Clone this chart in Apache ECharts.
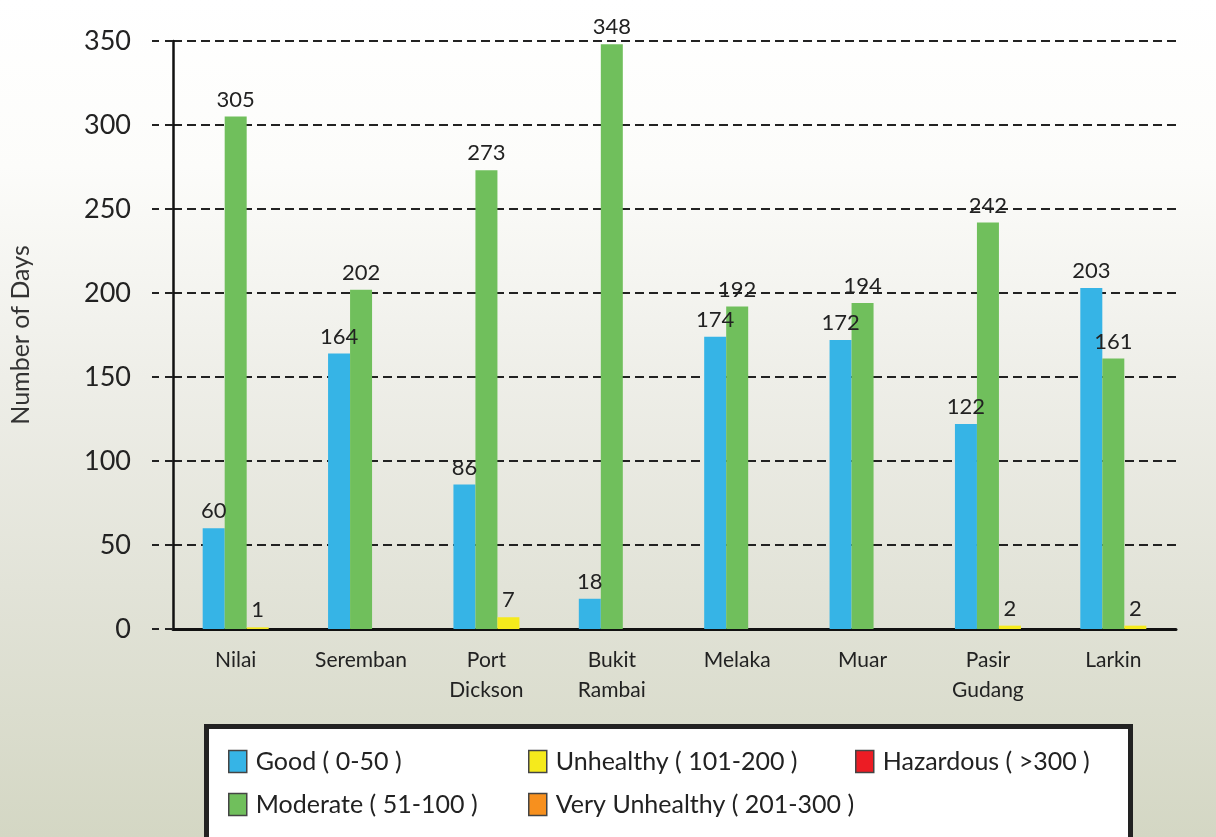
<!DOCTYPE html>
<html>
<head>
<meta charset="utf-8">
<script src="https://cdn.jsdelivr.net/npm/echarts@6/dist/echarts.min.js"></script>
<style>
html,body{margin:0;padding:0;}
#chart{width:1216px;height:837px;}
</style>
</head>
<body>
<div id="chart"></div>
<script>
const categories = ['Nilai', 'Seremban', 'Port\nDickson', 'Bukit\nRambai', 'Melaka', 'Muar', 'Pasir\nGudang', 'Larkin'];
const good = [60, 164, 86, 18, 174, 172, 122, 203];
const moderate = [305, 202, 273, 348, 192, 194, 242, 161];
const unhealthy = [1, null, 7, null, null, null, 2, 2];
const veryUnhealthy = [null, null, null, null, null, null, null, null];
const hazardous = [null, null, null, null, null, null, null, null];
const seriesNames = ['Good ( 0-50 )', 'Moderate ( 51-100 )', 'Unhealthy ( 101-200 )', 'Very Unhealthy ( 201-300 )', 'Hazardous ( >300 )'];
const yTicks = { min: 0, max: 350, interval: 50 };

const FONT = 'Lato, "Open Sans", sans-serif';
const colors = ['#36b4e6', '#70bf5c', '#f5ea1c', '#f7901e', '#ec1c24'];

const chart = echarts.init(document.getElementById('chart'), null, { renderer: 'canvas' });

function valueLabel() {
  return {
    show: true, position: 'top', distance: 6,
    color: '#222', fontFamily: FONT, fontSize: 22,
    formatter: p => (p.value === null || p.value === undefined || p.value === 0) ? '' : String(p.value)
  };
}

const legendText = { color: '#222', fontFamily: FONT, fontSize: 25, padding: [0, 0, 0, 4] };
const legendCommon = {
  orient: 'vertical', top: 744, itemWidth: 18, itemHeight: 22, itemGap: 18,
  textStyle: legendText, icon: 'rect', selectedMode: false,
  itemStyle: { borderColor: '#444', borderWidth: 1.5 }
};

chart.setOption({
  backgroundColor: {
    type: 'linear', x: 0, y: 0, x2: 0, y2: 1,
    colorStops: [
      { offset: 0, color: '#ffffff' },
      { offset: 0.2, color: '#fcfcfa' },
      { offset: 0.45, color: '#eeeee8' },
      { offset: 0.7, color: '#e2e3d8' },
      { offset: 1, color: '#d4d7c4' }
    ]
  },
  color: colors,
  animation: false,
  grid: { left: 163, right: 40, top: 41, bottom: 208, containLabel: false },
  graphic: [{
    type: 'rect', left: 204, top: 724, z: 0,
    shape: { width: 924, height: 140 },
    style: { fill: '#ffffff', stroke: '#222', lineWidth: 5 }
  }],
  legend: [
    Object.assign({ left: 223, data: [seriesNames[0], seriesNames[1]] }, legendCommon),
    Object.assign({ left: 523, data: [seriesNames[2], seriesNames[3]] }, legendCommon),
    Object.assign({ left: 850, data: [seriesNames[4]] }, legendCommon)
  ],
  xAxis: {
    type: 'category', data: categories,
    axisLine: { lineStyle: { color: '#111', width: 3 } },
    axisTick: { show: false },
    axisLabel: { color: '#222', fontFamily: FONT, fontSize: 21, margin: 16, lineHeight: 30, interval: 0 }
  },
  yAxis: {
    type: 'value', min: yTicks.min, max: yTicks.max, interval: yTicks.interval,
    name: 'Number of Days', nameLocation: 'middle', nameGap: 140,
    nameTextStyle: { color: '#333', fontFamily: FONT, fontSize: 25 },
    axisLine: { show: true, lineStyle: { color: '#111', width: 2.5 } },
    axisTick: { show: true, length: 21, lineStyle: { color: '#222', width: 2, type: [8, 6] } },
    axisLabel: { color: '#222', fontFamily: FONT, fontSize: 27, margin: 42 },
    splitLine: { show: true, lineStyle: { color: '#222', width: 2.2, type: [9, 5] } }
  },
  series: [
    { name: seriesNames[0], type: 'bar', data: good, barWidth: 22, barGap: '0%', label: valueLabel(), z: 3 },
    { name: seriesNames[1], type: 'bar', data: moderate, barWidth: 22, barGap: '0%', label: valueLabel(), z: 3 },
    { name: seriesNames[2], type: 'bar', data: unhealthy, stack: 'high', barWidth: 22, barGap: '0%', label: valueLabel(), z: 3 },
    { name: seriesNames[3], type: 'bar', data: veryUnhealthy, stack: 'high', barWidth: 22, barGap: '0%', z: 3 },
    { name: seriesNames[4], type: 'bar', data: hazardous, stack: 'high', barWidth: 22, barGap: '0%', z: 3 }
  ]
});
</script>
</body>
</html>
